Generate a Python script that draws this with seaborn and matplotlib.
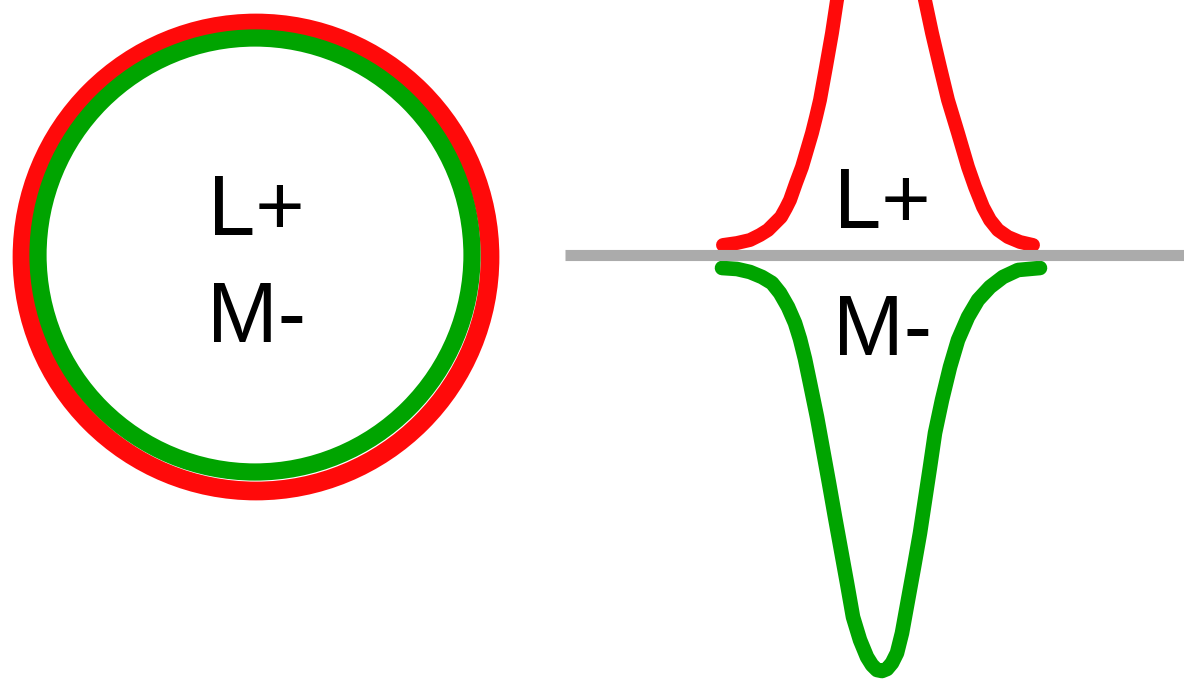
import numpy as np
import pandas as pd
import matplotlib
matplotlib.use("Agg")
import matplotlib.pyplot as plt
from matplotlib.patches import Circle
import seaborn as sns

# receptive field rings (centre x, centre y, radius) in picture units, y measured up from baseline
ring_names = ["L+ surround", "M- centre"]
ring_centres_x = [256, 255]
ring_centres_y = [-2, 0]
ring_radii = [234, 217]

# L+ (red) response profile, clipped at the top of the picture
red_x = [723, 737, 750, 760, 768, 775, 781, 786, 790, 796, 802, 807, 812, 816, 820,
         826, 832, 837, 850, 865, 881, 897, 912, 925, 932, 940, 948, 958, 968, 975,
         983, 990, 998, 1008, 1020, 1033]
red_y = [10, 12, 15, 20, 25, 32, 38, 47, 55, 72, 88, 105, 122, 138, 155,
         188, 222, 255, 300, 330, 340, 330, 300, 255, 222, 188, 155, 122, 88, 68,
         48, 35, 25, 18, 13, 10]

# M- (green) response profile
green_x = [722, 737, 750, 762, 772, 780, 788, 795, 800, 805, 810, 817, 823, 829, 835,
           841, 847, 853, 860, 867, 872, 877, 882, 887, 892, 897, 902, 908, 914, 920, 925,
           930, 935, 942, 950, 958, 968, 978, 990, 1003, 1018, 1040]
green_y = [-13, -14, -17, -22, -28, -38, -52, -68, -84, -104, -128, -162, -195, -228, -262,
           -295, -328, -362, -385, -402, -410, -415, -416, -414, -408, -398, -378, -345, -312,
           -278, -245, -212, -178, -145, -112, -85, -62, -45, -32, -22, -15, -13]

baseline_x = [565, 1184]
baseline_y = [0, 0]

labels = ["L+", "M-"]

RED = "#ff0a0a"
GREEN = "#00a400"
GREY = "#ababab"

sns.set_theme(style="white")
plt.rcParams["font.family"] = ["Liberation Sans", "DejaVu Sans"]

fig = plt.figure(figsize=(11.84, 6.86), dpi=100)
ax = fig.add_axes([0, 0, 1, 1])
ax.set_xlim(0, 1184)
ax.set_ylim(-431, 255)
ax.axis("off")

# left panel: concentric rings
for cx, cy, r, col, lw in zip(ring_centres_x, ring_centres_y, ring_radii,
                               [RED, GREEN], [13.5, 12.4]):
    ax.add_patch(Circle((cx, cy), r, fill=False, edgecolor=col, linewidth=lw, zorder=2))

ax.text(256, 20, labels[0], ha="center", va="baseline", fontsize=61, color="black")
ax.text(256, -87, labels[1], ha="center", va="baseline", fontsize=61, color="black")

# right panel: response profiles across the baseline
red_df = pd.DataFrame({"pos": red_x, "resp": red_y})
green_df = pd.DataFrame({"pos": green_x, "resp": green_y})
sns.lineplot(data=red_df, x="pos", y="resp", sort=False, estimator=None,
             color=RED, linewidth=10, ax=ax, zorder=2)
sns.lineplot(data=green_df, x="pos", y="resp", sort=False, estimator=None,
             color=GREEN, linewidth=10.5, ax=ax, zorder=2)
for line in ax.lines:
    line.set_solid_capstyle("round")
    line.set_solid_joinstyle("round")

ax.plot(baseline_x, baseline_y, color=GREY, linewidth=8, solid_capstyle="butt", zorder=3)

ax.text(882, 27, labels[0], ha="center", va="baseline", fontsize=61, color="black")
ax.text(883, -100, labels[1], ha="center", va="baseline", fontsize=61, color="black")

ax.set_xlabel("")
ax.set_ylabel("")

fig.savefig("out.png", dpi=100, facecolor="white")
plt.close(fig)
